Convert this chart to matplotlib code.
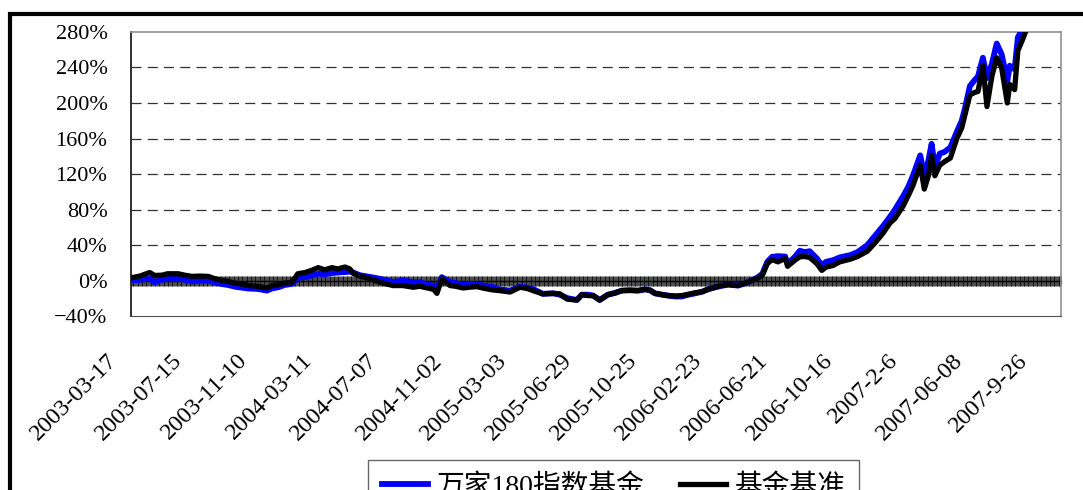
import numpy as np
import matplotlib.pyplot as plt
from matplotlib.patches import Rectangle
from matplotlib.transforms import ScaledTranslation
from matplotlib.ticker import FixedLocator

plt.rcParams['font.family'] = ['Liberation Serif', 'Noto Sans CJK SC']

# 交易日序号 (从 2003-03-17 起)
day = [0, 11, 23, 29, 38, 45, 58, 66, 75, 85, 95, 103, 112, 119, 128, 136, 144, 156,
       167, 173, 181, 189, 198, 205, 214, 222, 230, 238, 247, 254, 263, 269, 273, 281,
       290, 300, 310, 322, 334, 347, 355, 364, 372, 376, 382, 392, 399, 408, 417, 425,
       435, 445, 453, 466, 478, 487, 494, 506, 519, 527, 536, 548, 554, 562, 568, 576,
       586, 595, 603, 613, 623, 632, 638, 644, 653, 660, 669, 677, 685, 693, 702, 709,
       718, 726, 734, 746, 755, 763, 771, 776, 782, 788, 795, 804, 807, 816, 822, 828,
       834, 843, 849, 854, 863, 871, 884, 893, 905, 914, 924, 933, 939, 949, 955, 961,
       970, 975, 980, 984, 988, 994, 1000, 1007, 1015, 1021, 1025, 1031, 1037, 1041,
       1047, 1052, 1058, 1064, 1070, 1077, 1080, 1086, 1090, 1096, 1101, 1105]

# 万家180指数基金 累计收益率 (%)
fund = [0, 1, 2, -2, 1, 2, 2, 1, -1, 0, 0, -2, -4, -5, -7, -8, -9, -9.5,
        -11.4, -9, -7.6, -5, -3.8, 3, 4, 5.7, 7.6, 7, 8.4, 9, 9.5, 10, 9, 6,
        4.6, 3, 1, -1.9, 0, -1.9, -2, -4.6, -6, -8, 3.8, -1.9, -3, -4.6, -4, -4.6,
        -6, -7.6, -10, -11.4, -6.9, -8, -9.5, -15, -14.5, -16, -19.8, -22, -16, -16, -17, -22,
        -16, -14, -11.4, -11, -11.4, -10, -11, -14.5, -16, -17, -18, -18, -16, -14.5, -12.6, -10,
        -7.6, -6, -4.6, -5.7, -3, 0, 4, 7.6, 21, 26.7, 27.4, 27, 19, 26.7, 33.5, 32,
        33, 24.8, 17, 21, 22.9, 26, 28.6, 32, 40, 50, 61, 72, 80, 95, 105, 118,
        141, 118, 135, 154, 128, 143, 145, 150, 167.6, 180, 194, 219, 226, 230,
        251, 228, 244, 267, 255, 225, 242, 238, 274, 284, 295, 300]

# 基金基准 累计收益率 (%)
bench = [3, 5, 9, 5.7, 6, 7.6, 7.6, 6, 4.6, 5, 4.6, 2, 0, -1, -3, -4, -5.7, -6.5,
         -8.4, -6, -4.6, -3, -1.9, 7.6, 9, 11.4, 14.5, 12, 14.5, 13, 15.2, 13, 8, 5,
         3, 0, -3, -5.7, -5.7, -7.6, -6.5, -8.4, -10, -14.5, 2, -5.7, -6.5, -8.4, -7.5, -6.9,
         -9, -10.7, -11.4, -13, -7.6, -9, -11.4, -15, -14.5, -15, -21, -22, -16, -17, -17, -22,
         -16, -14, -11.4, -11, -11.4, -10, -11, -14.5, -16, -17, -17.5, -17, -15.5, -14, -12.6, -10,
         -7.6, -5.5, -4.6, -5.7, -3, 0, 3, 6, 19, 23.6, 21, 24.8, 16, 22.9, 26.7, 27,
         26, 19, 11.4, 15, 17, 21, 24, 27, 33, 42, 53, 65, 70, 84, 95, 107,
         130, 103, 118, 141, 118, 130, 134, 138, 160, 172, 187, 209, 212, 213,
         242, 196, 230, 251, 240, 200, 221, 215, 259, 272, 284, 292]

n_days = 1143
tick_days = [0, 80, 160, 240, 320, 400, 480, 560, 640, 720, 800, 880, 960, 1040, 1120]
tick_labels = ['2003-03-17', '2003-07-15', '2003-11-10', '2004-03-11', '2004-07-07',
               '2004-11-02', '2005-03-03', '2005-06-29', '2005-10-25', '2006-02-23',
               '2006-06-21', '2006-10-16', '2007-2-6', '2007-06-08', '2007-9-26']
y_ticks = [-40, 0, 40, 80, 120, 160, 200, 240, 280]
y_labels = ['\u221240%', '0%', '40%', '80%', '120%', '160%', '200%', '240%', '280%']

fig = plt.figure(figsize=(10.83, 4.9), dpi=100)
ax = fig.add_axes([131 / 1083, 1 - 316 / 490, 930 / 1083, 284 / 490])

x = np.array(day)
ax.plot(x, fund, color='#0000ff', lw=4.2, label='万家180指数基金', zorder=3)
ax.plot(x, bench, color='black', lw=3.8, label='基金基准', zorder=4)

ax.set_xlim(0, n_days)
ax.set_ylim(-40, 280)

ax.set_yticks(y_ticks, y_labels)
for g in y_ticks[2:-1]:
    ax.axhline(g, color='#303030', lw=0.9, dashes=(8, 5), zorder=1)

ax.set_xticks(tick_days, tick_labels, rotation=45, ha='right', rotation_mode='anchor')
ax.tick_params(axis='both', length=0)
ax.tick_params(axis='x', pad=0, labelsize=17.5)
ax.tick_params(axis='y', pad=17, labelsize=16)
off = ScaledTranslation(-0.25, -0.34, fig.dpi_scale_trans)
for lab in ax.get_xticklabels():
    lab.set_transform(lab.get_transform() + off)

for s in ['top', 'right']:
    ax.spines[s].set_color('#909090')
    ax.spines[s].set_linewidth(1.2)
ax.spines['bottom'].set_color('#505050')
ax.spines['left'].set_color('#202020')
ax.spines['left'].set_linewidth(1.3)

# 类别轴穿过0%的位置, 每个交易日一个刻度
sec = ax.secondary_xaxis(40 / 320)
sec.xaxis.set_major_locator(FixedLocator(np.arange(0, n_days + 1)))
sec.tick_params(direction='inout', length=6.5, width=0.5, color='black', labelbottom=False)
sec.spines['bottom'].set_linewidth(1.0)

ax.legend(loc='upper left', bbox_to_anchor=(368 / 1083, 1 - 460 / 490),
          bbox_transform=fig.transFigure, ncol=2, fontsize=20, frameon=True,
          fancybox=False, edgecolor='#404040', borderpad=0.5, handlelength=1.65,
          handletextpad=0.3, columnspacing=1.3, borderaxespad=0)

fig.add_artist(Rectangle((10 / 1083, -0.1), 1.2, 1.1 - 14 / 490, transform=fig.transFigure,
                         fill=False, edgecolor='black', lw=3, clip_on=False))

fig.savefig('out.png', dpi=100)
